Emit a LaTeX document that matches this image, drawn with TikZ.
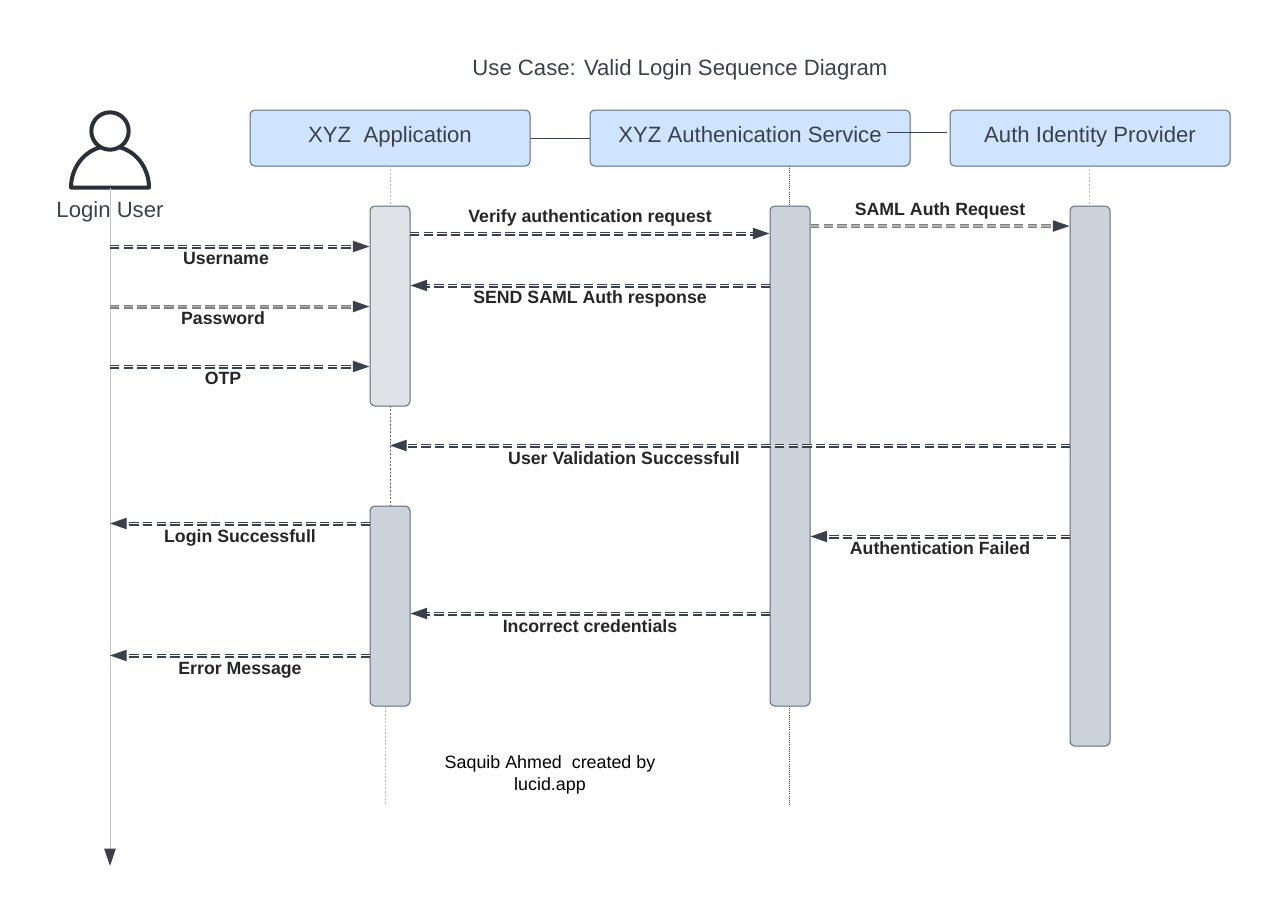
\documentclass[tikz,border=0pt]{standalone}
\usepackage{fontspec}
\setmainfont{Liberation Sans}
\usetikzlibrary{arrows.meta,positioning}
\definecolor{inkdark}{HTML}{3A414A}
\definecolor{inkline}{HTML}{5F6B78}
\definecolor{boxblue}{HTML}{CFE4FF}
\definecolor{bargray}{HTML}{CCD3DB}
\definecolor{barlight}{HTML}{DFE3E7}
\definecolor{actorink}{HTML}{2B3038}

\begin{document}
\begin{tikzpicture}[
  x=0.75pt,y=-0.75pt,
  font=\fontsize{13.3pt}{15pt}\selectfont,>=Latex,
  headstyle/.style={draw=inkline, line width=0.75pt, rounded corners=3.5pt, fill=boxblue, text=inkdark, minimum height=42pt, inner ysep=0pt, text height=15.5pt, text depth=9pt, font=\fontsize{16.6pt}{20pt}\selectfont},
  barstyle/.style={draw=inkline, line width=0.75pt, rounded corners=3.5pt, fill=bargray, minimum width=30pt, inner sep=0pt},
  msgstyle/.style={draw=inkdark, line width=0.8pt, double=white, double distance=1.4pt, dash pattern=on 7pt off 3.2pt, -{Triangle[length=12.5pt,width=8.5pt,color=inkdark,fill=inkdark]}},
  msgpale/.style={msgstyle, draw=gray, double=gray!60},
  msgtext/.style={font=\fontsize{13.3pt}{15pt}\selectfont\bfseries, text=black!85, inner sep=0pt, text height=9.6pt, text depth=1.3pt},
  lifeline/.style={draw=gray!55, line width=0.75pt, dotted, line cap=round},
  lifedark/.style={draw=black!75, line width=0.6pt, densely dotted},
]
\useasboundingbox (0,0) rectangle (1270,904);

% --- title ---
\node[text=inkdark, font=\fontsize{16.6pt}{20pt}\selectfont] (title) at (680,70) {Use Case: Valid Login Sequence Diagram};

% --- header boxes ---
\node[headstyle, minimum width=210pt] (app) at (390,138) {XYZ\ \ Application};
\node[headstyle, minimum width=240pt] (service) at (750,138) {XYZ Authenication Service};
\node[headstyle, minimum width=210pt] (provider) at (1090,138) {Auth Identity Provider};
\coordinate (svcstub) at (887,132);
\coordinate (provstub) at (947,132);
\draw[inkdark, line width=0.75pt] (app.east) -- (service.west);
\draw[inkdark, line width=0.75pt] (svcstub) -- (provstub);

% --- actor ---
\draw[draw=actorink, line width=3pt, line join=round, fill=white] (71,187.5) .. controls (71,165) and (88,146) .. (110,146) .. controls (132,146) and (149,165) .. (149,187.5) -- cycle;
\node[circle, draw=actorink, line width=3pt, fill=white, minimum size=28pt, inner sep=0pt] (head) at (110,131) {};
\coordinate (userfoot) at (110,188);
\coordinate (userend) at (110,866);
\draw[draw=gray!45, line width=0.75pt, -{Triangle[length=13pt,width=8.5pt,color=inkdark,fill=inkdark]}] (userfoot) -- (userend);
\node[text=inkdark, font=\fontsize{16.6pt}{20pt}\selectfont] (user) at (110,212) {Login User};

% --- lifelines behind the activation bars ---
\coordinate (append) at (385,805);
\coordinate (appfoot) at (385,707);
\coordinate (svcend) at (789,805);
\draw[lifeline] (390,166) -- (390,206);
\draw[lifeline, black!70] (390,406) -- (390,506);
\draw[lifeline] (appfoot) -- (append);
\draw[lifedark] (789,166) -- (789,206);
\draw[lifedark] (789,706) -- (svcend);
\draw[lifeline] (1089,166) -- (1089,206);

% --- activation bars ---
\node[barstyle, fill=barlight, minimum height=150pt] (appbara) at (390,306) {};
\node[barstyle, minimum height=150pt] (appbarb) at (390,606) {};
\node[barstyle, minimum height=375pt] (svcbar) at (790,456) {};
\node[barstyle, minimum height=405pt] (provbar) at (1090,476) {};

% --- messages: login inputs ---
\foreach \nm/\y/\lx/\txt/\sty in {uname/246.5/226/Username/msgstyle, passwd/306.5/223/Password/msgpale, otp/366.5/223/OTP/msgstyle} {
  \coordinate (\nm) at (110,\y);
  \draw[\sty] (\nm) -- (appbara.west |- \nm);
  \node[msgtext] (\nm text) at (\lx,\y+12) {\txt};
}

% --- messages: requests ---
\coordinate (verify) at (410,233.5);
\draw[msgstyle] (verify) -- (svcbar.west |- verify);
\node[msgtext] (verifytext) at (590,216.5) {Verify authentication request};
\coordinate (samlreq) at (810,226);
\draw[msgpale] (samlreq) -- (provbar.west |- samlreq);
\node[msgtext] (samlreqtext) at (940,209.5) {SAML Auth Request};

% --- messages: replies ---
\coordinate (samlres) at (770,285.5);
\draw[msgstyle] (samlres) -- (appbara.east |- samlres);
\node[msgtext] (samlrestext) at (590,297.5) {SEND SAML Auth response};
\coordinate (uservalid) at (1070,445.5);
\coordinate (uservalidend) at (390,445.5);
\draw[msgstyle] (uservalid) -- (uservalidend);
\node[msgtext] (uservalidtext) at (624,458.7) {User Validation Successfull};
\coordinate (authfail) at (1070,536.5);
\draw[msgstyle] (authfail) -- (svcbar.east |- authfail);
\node[msgtext] (authfailtext) at (940,549) {Authentication Failed};
\coordinate (badcred) at (770,613.5);
\draw[msgstyle] (badcred) -- (appbarb.east |- badcred);
\node[msgtext] (badcredtext) at (590,626.7) {Incorrect credentials};

% --- messages back to the user ---
\foreach \nm/\y/\txt in {loginok/523.5/Login Successfull, errmsg/655.5/Error Message} {
  \coordinate (\nm) at (370,\y);
  \draw[msgstyle] (\nm) -- (userfoot |- \nm);
  \node[msgtext] (\nm text) at (240,\y+13) {\txt};
}

% --- credit ---
\node[align=center, font=\fontsize{13.4pt}{16.5pt}\selectfont, text=black] (credit) at (550,775) {Saquib Ahmed\ \ created by\\lucid.app};

\end{tikzpicture}
\end{document}
